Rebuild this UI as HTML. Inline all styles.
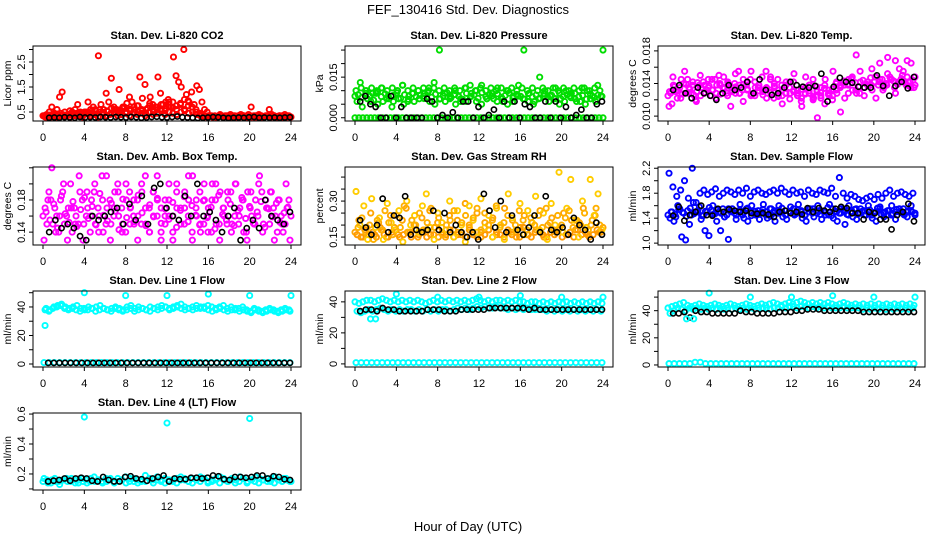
<!DOCTYPE html>
<html><head><meta charset="utf-8"><style>
body{margin:0;background:#fff}
svg{display:block;font-family:"Liberation Sans",sans-serif}
</style></head><body>
<svg id="chart" width="936" height="540" viewBox="0 0 936 540">
<text x="468" y="14" text-anchor="middle" font-size="13">FEF_130416  Std. Dev. Diagnostics</text>
<text x="468" y="531" text-anchor="middle" font-size="13">Hour of Day (UTC)</text>
</svg>
<script>
// ---- data ----
const xTicks = [0,4,8,12,16,20,24];
const co2Red1 = [0.35,0.4,0.5,0.7,0.45,0.6,1.1,1.3,0.5,0.4,0.55,0.45,0.6,0.8,0.5,0.45,0.5,0.9,0.6,0.7,0.55,2.75,0.8,0.6,1.25,0.9,1.85,0.7,0.6,1.4,0.55,0.7,0.85,1.1,0.9,0.6,0.75,1.9,1.05,1.6,0.65,1.1,0.8,0.7,1.9,1.25,0.8,0.9,1.0,0.7,2.7,1.95,1.7,1.5,3.0,1.2,0.9,1.3,0.8,1.55,1.4,0.9,0.6,0.5,0.35,0.3,0.35,0.3,0.4,0.3,0.35,0.3,0.4,0.35,0.3,0.35,0.4,0.35,0.3,0.4,0.7,0.35,0.3,0.4,0.35,0.3,0.35,0.6,0.4,0.35,0.3,0.35,0.3,0.4,0.35,0.3];
const co2Red2 = [0.3,0.35,0.4,0.3,0.45,0.35,0.4,0.5,0.35,0.45,0.4,0.5,0.45,0.6,0.5,0.4,0.55,0.45,0.6,0.5,0.65,0.45,0.55,0.7,0.5,0.6,0.45,0.75,0.55,0.6,0.8,0.65,0.7,0.9,0.6,0.85,1.0,0.75,0.7,0.6,0.45,0.35,0.3,0.35,0.3,0.35,0.3,0.35,0.3,0.35,0.3,0.35,0.3,0.35,0.3,0.35,0.3,0.35,0.3,0.35,0.3,0.35,0.3,0.35];
const co2Red3 = [0.35,0.3,0.3,0.35,0.3,0.4,0.35,0.3,0.4,0.35,0.3,0.45,0.35,0.4,0.3,0.45,0.35,0.4,0.5,0.35,0.4,0.45,0.35,0.5,0.4,0.45,0.35,0.5,0.4,0.45,0.55,0.4,0.5,0.45,0.4,0.5,0.55,0.45,0.5,0.4,0.35,0.3,0.35,0.3,0.3,0.35,0.3,0.3,0.35,0.3,0.3,0.35,0.3,0.3,0.35,0.3,0.3,0.35,0.3,0.3,0.35,0.3,0.3,0.3];
const co2Red4 = [0.32,0.38,0.33,0.42,0.36,0.33,0.4,0.35,0.45,0.38,0.5,0.42,0.55,0.4,0.6,0.48,0.52,0.65,0.45,0.58,0.7,0.5,0.62,0.48,0.75,0.55,0.6,0.85,0.5,0.7,0.62,0.55,0.9,0.68,0.75,0.8,0.6,0.95,0.7,0.5,0.4,0.33,0.32,0.34,0.33,0.32,0.34,0.33,0.32,0.34,0.33,0.32,0.34,0.33,0.32,0.34,0.33,0.32,0.34,0.33,0.32,0.34,0.33,0.32];
const co2Black = [0.27,0.28,0.27,0.29,0.28,0.27,0.3,0.28,0.29,0.28,0.3,0.29,0.28,0.3,0.29,0.28,0.3,0.29,0.27,0.28,0.3,0.31,0.29,0.28,0.3,0.32,0.29,0.28,0.27,0.26,0.27,0.28,0.3,0.29,0.27,0.26,0.27,0.28,0.27,0.29,0.3,0.27,0.28,0.27,0.28,0.27,0.28,0.29];

const presG1 = [0.008,0.013,0.010,0.006,0.009,0.011,0.007,0.004,0.010,0.012,0.006,0.009,0.010,0.008,0.011,0.013,0.025,0.009,0.007,0.010,0.006,0.011,0.008,0.010,0.012,0.007,0.009,0.011,0.006,0.010,0.008,0.012,0.025,0.009,0.006,0.015,0.010,0.008,0.011,0.007,0.010,0.009,0.006,0.011,0.010,0.008,0.012,0.025];
const presG2 = [0.006,0.004,0.007,0.009,0.005,0.006,0.008,0.006,0.007,0.005,0.008,0.006,0.007,0.009,0.006,0.005,0.007,0.006,0.008,0.005,0.007,0.006,0.009,0.006,0.005,0.007,0.008,0.006,0.007,0.005,0.006,0.008,0.007,0.006,0.005,0.007,0.008,0.006,0.007,0.005,0.006,0.008,0.007,0.006,0.005,0.007,0.006,0.008];
const presG3 = [0,0,0,0,0,0,0,0,0,0,0,0,0,0,0,0,0,0,0,0,0,0,0,0,0,0,0,0,0,0,0,0,0,0,0,0,0,0,0,0,0,0,0,0,0,0,0,0,0,0,0,0,0,0,0,0,0,0,0,0,0,0,0,0];
const presG4 = [0.010,0.011,0.010,0.011,0.010,0.011,0.010,0.011,0.010,0.012,0.010,0.011,0.010,0.011,0.010,0.011,0.010,0.011,0.010,0.011,0.010,0.011,0.012,0.010,0.011,0.010,0.011,0.010,0.011,0.010,0.011,0.010,0.011,0.010,0.011,0.010,0.011,0.010,0.011,0.010,0.011,0.010,0.011,0.010,0.011,0.010,0.011,0.010];
const presG5 = [0.0085,0.0075,0.009,0.008,0.0065,0.0095,0.0078,0.0088,0.007,0.0082,0.0092,0.0072,0.0085,0.0068,0.009,0.0078,0.0083,0.0071,0.0094,0.0076,0.0087,0.0069,0.0081,0.0092,0.0074,0.0086,0.0079,0.0068,0.009,0.0077,0.0084,0.0072,0.0093,0.0078,0.0085,0.007,0.0088,0.0076,0.0082,0.0091,0.0073,0.0086,0.0079,0.0069,0.0089,0.0077,0.0084,0.0072,0.0089,0.0076,0.0083,0.0071,0.0092,0.0078,0.0085,0.0074,0.009,0.0077,0.0082,0.0069,0.0088,0.0075,0.0084,0.0079];
const presBlack = [0.006,0.008,0.005,0.004,0,0,0.008,0,0.004,0,0,0,0,0.007,0.006,0,0.001,0,0.002,0,0.006,0.006,0,0.004,0,0.001,0.003,0,0.006,0,0.006,0,0.005,0.004,0,0,0.006,0,0.006,0,0.004,0,0.001,0.003,0,0,0.005,0.006];

const tempM1 = [0.0125,0.0115,0.013,0.0135,0.014,0.0145,0.0128,0.012,0.0138,0.0142,0.0132,0.0125,0.0145,0.015,0.0135,0.0128,0.0112,0.014,0.0155,0.0132,0.0138,0.0145,0.0128,0.0135,0.0148,0.0155,0.0132,0.0122,0.0145,0.0138,0.0128,0.0135,0.0142,0.0132,0.0118,0.0128,0.0138,0.0145,0.013,0.0122,0.0115,0.0132,0.0125,0.0142,0.0105,0.0138,0.0128,0.0148,0.0175,0.0155,0.0135,0.0142,0.0158,0.0148,0.0165,0.0138,0.0152,0.0145,0.0168,0.0142,0.0155,0.0148,0.0165,0.0138];
const tempM2 = [0.013,0.0138,0.0122,0.0145,0.0128,0.0135,0.0142,0.013,0.0125,0.0138,0.0145,0.0132,0.0128,0.014,0.0135,0.0142,0.0132,0.0128,0.0138,0.0145,0.0132,0.0125,0.0142,0.0138,0.013,0.0135,0.0145,0.014,0.0132,0.0125,0.0138,0.0142,0.0132,0.0128,0.0122,0.0135,0.0128,0.012,0.0132,0.0125,0.0138,0.0128,0.012,0.0132,0.0135,0.0142,0.0138,0.0145,0.0132,0.0128,0.0135,0.0142,0.0138,0.0148,0.0142,0.0132,0.0138,0.0145,0.0135,0.0142,0.015,0.0138,0.0142,0.0135];
const tempM3 = [0.0112,0.0148,0.0132,0.0122,0.0155,0.0128,0.0138,0.0118,0.015,0.0128,0.0135,0.0145,0.0122,0.0138,0.0148,0.0125,0.0135,0.0152,0.0128,0.0118,0.0142,0.0155,0.0125,0.0138,0.0132,0.0122,0.0148,0.0135,0.0125,0.0115,0.0142,0.0128,0.0152,0.0125,0.0112,0.0148,0.0138,0.0122,0.0098,0.0135,0.0145,0.0125,0.0155,0.0128,0.0138,0.0122,0.0145,0.0132,0.0128,0.0142,0.0125,0.0138,0.0132,0.0122,0.0145,0.0135,0.0172,0.0145,0.0128,0.0158,0.0142,0.0168,0.0135,0.0148];
const tempM4 = [0.0128,0.0136,0.0131,0.0127,0.0139,0.0133,0.0126,0.0141,0.0135,0.0129,0.0137,0.0132,0.0138,0.0127,0.0134,0.014,0.013,0.0136,0.0128,0.0139,0.0133,0.0127,0.0135,0.0131,0.0126,0.0134,0.0129,0.0137,0.0124,0.0132,0.0128,0.0121,0.013,0.0125,0.0133,0.0127,0.0131,0.0124,0.0136,0.0129,0.0134,0.0127,0.0133,0.014,0.0137,0.0143,0.0139,0.0146,0.0141,0.0136,0.0144,0.0139,0.0147,0.0142,0.0138,0.0145,0.014,0.0148,0.0143,0.0139,0.0146,0.0141,0.0137,0.0144];
const tempBlack = [0.0132,0.0138,0.0128,0.0122,0.0135,0.0128,0.0125,0.012,0.0128,0.0138,0.0132,0.0135,0.0142,0.0128,0.0145,0.0132,0.0126,0.0128,0.0135,0.0142,0.0138,0.0136,0.0135,0.0137,0.0152,0.0118,0.0136,0.0147,0.0142,0.0141,0.0136,0.0135,0.0135,0.0150,0.0137,0.0125,0.0137,0.0142,0.0134,0.0148];

const ambM1 = [0.16,0.15,0.18,0.17,0.14,0.19,0.16,0.2,0.17,0.15,0.18,0.16,0.14,0.19,0.17,0.21,0.15,0.18,0.16,0.2,0.17,0.14,0.19,0.16,0.18,0.15,0.21,0.17,0.19,0.16,0.14,0.18,0.2,0.16,0.17,0.15,0.19,0.18,0.21,0.16,0.14,0.18,0.17,0.2,0.15,0.19,0.16,0.18,0.15,0.2,0.17,0.14,0.19,0.16,0.18,0.21,0.15,0.17,0.19,0.16,0.18,0.14,0.17,0.16];
const ambM2 = [0.17,0.19,0.15,0.16,0.18,0.15,0.17,0.14,0.16,0.19,0.15,0.17,0.18,0.15,0.16,0.14,0.17,0.15,0.19,0.16,0.15,0.18,0.17,0.15,0.16,0.19,0.15,0.14,0.16,0.18,0.17,0.15,0.16,0.14,0.19,0.17,0.15,0.16,0.14,0.17,0.19,0.15,0.16,0.14,0.18,0.15,0.17,0.15,0.19,0.16,0.15,0.18,0.14,0.17,0.15,0.16,0.19,0.18,0.15,0.17,0.14,0.16,0.15,0.18];
const ambM3 = [0.13,0.18,0.22,0.14,0.16,0.2,0.13,0.17,0.15,0.21,0.13,0.19,0.16,0.2,0.14,0.18,0.21,0.13,0.17,0.19,0.14,0.2,0.15,0.18,0.13,0.2,0.17,0.14,0.19,0.21,0.13,0.16,0.18,0.13,0.2,0.15,0.17,0.21,0.13,0.18,0.15,0.2,0.14,0.18,0.2,0.13,0.17,0.19,0.14,0.2,0.16,0.18,0.13,0.19,0.15,0.2,0.14,0.17,0.19,0.13,0.18,0.15,0.2,0.13];
const ambM4 = [0.165,0.155,0.175,0.145,0.185,0.163,0.152,0.178,0.147,0.168,0.183,0.157,0.172,0.149,0.188,0.161,0.154,0.176,0.166,0.143,0.181,0.158,0.171,0.153,0.186,0.164,0.148,0.174,0.159,0.182,0.151,0.169,0.156,0.177,0.146,0.167,0.184,0.153,0.173,0.161,0.149,0.179,0.158,0.171,0.144,0.186,0.162,0.155,0.175,0.148,0.167,0.183,0.157,0.172,0.151,0.165,0.178,0.146,0.169,0.159,0.176,0.152,0.164,0.171];
const ambBlack = [0.14,0.155,0.145,0.15,0.145,0.135,0.13,0.16,0.155,0.16,0.165,0.17,0.15,0.175,0.155,0.185,0.15,0.195,0.2,0.17,0.16,0.155,0.185,0.16,0.2,0.16,0.165,0.155,0.14,0.16,0.17,0.13,0.145,0.155,0.145,0.18,0.16,0.155,0.15,0.165];

const rhA = [0.17,0.22,0.15,0.19,0.25,0.16,0.21,0.18,0.15,0.24,0.19,0.16,0.22,0.27,0.17,0.2,0.15,0.23,0.18,0.26,0.16,0.21,0.19,0.15,0.24,0.18,0.22,0.16,0.29,0.2,0.17,0.25,0.15,0.21,0.18,0.23,0.16,0.2,0.27,0.17,0.22,0.15,0.19,0.24,0.16,0.21,0.18,0.26,0.15,0.2,0.23,0.17,0.19,0.25,0.16,0.22,0.18,0.21,0.27,0.16,0.2,0.24,0.17,0.19];
const rhB = [0.16,0.15,0.18,0.16,0.17,0.15,0.19,0.16,0.15,0.17,0.18,0.15,0.16,0.17,0.15,0.18,0.16,0.17,0.15,0.16,0.19,0.15,0.17,0.16,0.18,0.15,0.16,0.17,0.15,0.18,0.16,0.15,0.17,0.16,0.18,0.15,0.17,0.16,0.15,0.18,0.16,0.17,0.15,0.19,0.16,0.15,0.17,0.18,0.16,0.15,0.17,0.16,0.18,0.15,0.16,0.17,0.15,0.18,0.16,0.17,0.15,0.16,0.18,0.17];
const rhC = [0.34,0.2,0.28,0.14,0.31,0.19,0.23,0.14,0.29,0.21,0.18,0.26,0.13,0.3,0.2,0.24,0.17,0.28,0.33,0.19,0.14,0.25,0.21,0.18,0.3,0.15,0.26,0.2,0.13,0.28,0.22,0.17,0.31,0.19,0.24,0.15,0.27,0.2,0.14,0.33,0.23,0.18,0.29,0.16,0.26,0.21,0.32,0.18,0.25,0.14,0.29,0.2,0.42,0.17,0.27,0.39,0.22,0.15,0.3,0.19,0.39,0.24,0.33,0.18];
const rhD = [0.19,0.23,0.17,0.2,0.14,0.22,0.18,0.26,0.21,0.16,0.24,0.19,0.28,0.17,0.22,0.2,0.25,0.18,0.21,0.27,0.19,0.23,0.16,0.2,0.22,0.26,0.17,0.21,0.24,0.19,0.23,0.27,0.18,0.25,0.2,0.22,0.28,0.19,0.21,0.24,0.17,0.2,0.26,0.22,0.18,0.23,0.2,0.24,0.19,0.27,0.21,0.18,0.24,0.2,0.23,0.26,0.19,0.22,0.2,0.25,0.18,0.22,0.27,0.2];
const rhBlack = [0.22,0.19,0.16,0.2,0.31,0.17,0.24,0.23,0.32,0.16,0.18,0.17,0.18,0.26,0.18,0.25,0.17,0.2,0.17,0.15,0.17,0.14,0.33,0.26,0.19,0.3,0.17,0.24,0.18,0.16,0.19,0.24,0.17,0.32,0.18,0.17,0.19,0.16,0.23,0.2,0.18,0.14,0.21,0.16];

const flowB1 = [1.45,1.5,1.42,1.55,1.48,1.52,1.45,1.5,1.58,1.44,1.5,1.53,1.47,1.5,1.55,1.45,1.52,1.48,1.5,1.45,1.55,1.5,1.47,1.52,1.5,1.45,1.55,1.48,1.52,1.5,1.45,1.5,1.55,1.48,1.52,1.45,1.5,1.55,1.48,1.52,1.5,1.45,1.55,1.5,1.48,1.52,1.45,1.5,1.55,1.48,1.52,1.5,1.45,1.5,1.55,1.48,1.52,1.45,1.5,1.55,1.48,1.5,1.52,1.48];
const flowB2 = [2.12,1.9,1.75,1.85,2.0,1.72,2.2,1.65,1.8,1.85,1.78,1.82,1.87,1.75,1.8,1.85,1.82,1.78,1.85,1.8,1.88,1.75,1.82,1.85,1.8,1.78,1.82,1.85,1.8,1.88,1.82,1.78,1.85,1.8,1.82,1.75,1.85,1.8,1.78,1.85,1.82,1.8,1.88,1.75,2.05,1.8,1.72,1.78,1.75,1.7,1.68,1.72,1.75,1.7,1.78,1.72,1.8,1.85,1.75,1.8,1.82,1.78,1.75,1.8];
const flowB3 = [1.4,1.35,1.6,1.1,1.05,1.3,1.65,1.5,1.38,1.2,1.12,1.6,1.35,1.2,1.42,1.06,1.55,1.38,1.62,1.4,1.35,1.6,1.45,1.38,1.62,1.4,1.55,1.35,1.6,1.42,1.38,1.58,1.45,1.62,1.4,1.35,1.55,1.42,1.6,1.38,1.45,1.62,1.4,1.35,1.55,1.3,1.6,1.42,1.38,1.55,1.45,1.6,1.4,1.35,1.58,1.42,1.45,1.6,1.38,1.5,1.55,1.42,1.6,1.45];
const flowB4 = [1.5,1.46,1.54,1.49,1.43,1.56,1.47,1.52,1.44,1.51,1.57,1.46,1.53,1.48,1.42,1.55,1.5,1.45,1.53,1.49,1.56,1.44,1.51,1.47,1.54,1.5,1.43,1.52,1.48,1.56,1.45,1.51,1.47,1.53,1.5,1.44,1.55,1.48,1.52,1.46,1.5,1.57,1.44,1.51,1.48,1.53,1.46,1.5,1.54,1.47,1.51,1.45,1.53,1.49,1.56,1.46,1.5,1.52,1.47,1.54,1.49,1.45,1.52,1.5];
const flowBlack = [1.44,1.58,1.36,1.45,1.5,1.6,1.45,1.44,1.55,1.5,1.54,1.52,1.5,1.52,1.48,1.47,1.48,1.46,1.42,1.5,1.52,1.48,1.5,1.46,1.56,1.5,1.56,1.52,1.5,1.55,1.58,1.56,1.48,1.48,1.38,1.5,1.48,1.38,1.38,1.22,1.45,1.5,1.63,1.35];

const l1Band1 = [39,38,40,41,42,40,39,40,41,39,38,40,39,40,41,39,38,39,40,39,38,40,41,39,40,39,38,40,39,40,41,40,39,40,41,42,40,39,40,41,39,40,41,40,39,40,41,39,40,38,39,40,38,37,39,38,37,38,39,38,37,38,39,38];
const l1Band2 = [38,37,39,40,41,39,38,39,38,37,39,38,39,37,38,39,38,37,39,38,37,38,39,37,38,39,38,37,39,38,39,40,38,39,40,39,38,39,38,39,40,39,38,37,38,39,38,37,38,39,37,38,37,36,38,37,36,37,38,37,36,37,38,37];
const l1Low = [1,1,1,1,1,1,1,1,1,1,1,1,1,1,1,1,1,1,1,1,1,1,1,1,1,1,1,1,1,1,1,1,1,1,1,1,1,1,1,1,1,1,1,1,1,1,1,1];
const l1Black = [0.8,0.8,0.8,0.8,0.8,0.8,0.8,0.8,0.8,0.8,0.8,0.8,0.8,0.8,0.8,0.8,0.8,0.8,0.8,0.8,0.8,0.8,0.8,0.8,0.8,0.8,0.8,0.8,0.8,0.8,0.8,0.8,0.8,0.8,0.8,0.8,0.8,0.8,0.8,0.8,0.8,0.8,0.8,0.8];
const l1OutHours = [0.2,4,8,12,16,20,24];
const l1OutVals = [27,50,48,48,49,48,48];

const l2Band1 = [40,39,40,41,41,40,41,42,41,40,41,40,41,40,41,40,41,40,39,40,41,40,41,40,41,40,41,40,41,40,41,42,41,40,41,40,41,41,40,41,40,41,40,40,39,40,40,39,40,39,40,39,40,39,40,39,40,39,40,39,40,39,40,39];
const l2Band2 = [34,33,34,35,34,35,36,35,34,35,34,35,34,35,35,34,35,34,35,34,35,34,35,35,34,35,36,35,36,35,36,37,36,37,36,36,37,36,36,35,36,35,36,35,36,35,35,35,35,34,35,34,35,34,35,34,35,34,35,34,35,34,35,34];
const l2Low = [0.8,0.8,0.8,0.8,0.8,0.8,0.8,0.8,0.8,0.8,0.8,0.8,0.8,0.8,0.8,0.8,0.8,0.8,0.8,0.8,0.8,0.8,0.8,0.8,0.8,0.8,0.8,0.8,0.8,0.8,0.8,0.8,0.8,0.8,0.8,0.8,0.8,0.8,0.8,0.8,0.8,0.8,0.8,0.8,0.8,0.8,0.8,0.8];
const l2Black = [34,35,35,34,36,35,35,34,34,34,34,34,35,35,35,34,34,34,35,35,35,35,35,36,36,36,36,36,36,36,35,36,35,35,35,35,35,35,35,35,35,35,35,35];
const l2OutHours = [1.5,2,4,8,12,16,20,24];
const l2OutVals = [29,29,45,43,43,44,43,43];

const l3Band1 = [42,43,44,45,46,44,43,44,45,44,43,44,45,44,43,44,45,44,43,44,45,44,43,44,45,44,45,46,45,44,45,46,45,46,47,46,45,46,45,46,45,46,45,44,45,46,45,44,45,44,45,44,45,44,45,44,45,44,45,44,45,44,45,44];
const l3Band2 = [38,40,42,41,40,42,41,42,41,42,41,42,41,42,41,42,41,42,41,42,41,42,41,42,42,42,41,42,42,43,42,43,43,42,43,43,42,43,42,43,42,43,42,42,42,43,42,42,42,42,41,42,41,42,41,42,41,42,41,42,41,42,41,42];
const l3Low = [1,1,1,1,1,2,2,1,1,1,1,1,1,1,1,1,1,1,1,1,1,1,1,1,1,1,1,1,1,1,1,1,1,1,1,1,1,1,1,1,1,1,1,1,1,1,1,1];
const l3Black = [38,38,39,35,40,39,39,38,38,38,38,38,40,39,39,38,38,38,38,39,39,39,40,40,41,41,41,40,40,40,40,40,40,40,39,39,39,39,39,39,39,39,39,39];
const l3OutHours = [1.8,2.5,4,8,12,16,20,24];
const l3OutVals = [34,34,53,50,50,51,50,50];

const l4Band1 = [0.15,0.16,0.14,0.17,0.15,0.16,0.17,0.15,0.16,0.14,0.17,0.16,0.15,0.18,0.16,0.15,0.17,0.16,0.15,0.17,0.16,0.18,0.15,0.17,0.16,0.15,0.19,0.17,0.16,0.18,0.16,0.17,0.15,0.16,0.17,0.18,0.16,0.15,0.17,0.16,0.18,0.17,0.15,0.16,0.17,0.18,0.16,0.15,0.17,0.16,0.18,0.17,0.15,0.16,0.18,0.17,0.16,0.15,0.17,0.18,0.16,0.17,0.16,0.15];
const l4Band2 = [0.17,0.14,0.16,0.15,0.13,0.16,0.15,0.17,0.14,0.16,0.15,0.14,0.17,0.15,0.16,0.14,0.15,0.17,0.14,0.15,0.16,0.14,0.17,0.15,0.14,0.16,0.15,0.17,0.14,0.16,0.15,0.14,0.16,0.15,0.14,0.16,0.17,0.15,0.14,0.16,0.15,0.17,0.14,0.15,0.16,0.14,0.17,0.15,0.16,0.14,0.15,0.17,0.14,0.16,0.15,0.14,0.16,0.17,0.15,0.14,0.16,0.15,0.17,0.15];
const l4Black = [0.15,0.155,0.16,0.17,0.155,0.17,0.175,0.17,0.155,0.15,0.18,0.16,0.15,0.15,0.18,0.185,0.17,0.165,0.155,0.17,0.18,0.19,0.15,0.17,0.165,0.165,0.175,0.175,0.17,0.175,0.19,0.185,0.165,0.16,0.18,0.18,0.175,0.18,0.19,0.19,0.17,0.185,0.18,0.165,0.16];
const l4OutHours = [4,12,20];
const l4OutVals = [0.58,0.54,0.57];

// ---- layout ----
const svg = document.getElementById('chart');
const NS = 'http://www.w3.org/2000/svg';
const colsL = [33,345,658], colsR = [301,613,925];
const rowsT = [46,167,291,413], rowsB = [121,245,367,490];

function mk(tag, attrs, parent){const e=document.createElementNS(NS,tag);for(const k in attrs)e.setAttribute(k,attrs[k]);(parent||svg).appendChild(e);return e;}

const panels = [
 {id:'co2',col:0,row:0,title:'Stan. Dev. Li-820 CO2',ylab:'Licor ppm',ymin:0.14,ymax:3.14,ticks:[0.5,1,1.5,2,2.5,3],labels:[0.5,1.5,2.5],fmt:1,
  series:[[co2Red1,'#ff0000',0.1,23.9],[co2Red2,'#ff0000',0.2,23.8],[co2Red3,'#ff0000',0,24],[co2Red4,'#ff0000',0.3,23.7],[co2Black,'#000',0.6,23.9]]},
 {id:'pressure',col:1,row:0,title:'Stan. Dev. Li-820 Pressure',ylab:'kPa',ymin:-0.0012,ymax:0.0265,ticks:[0,0.005,0.01,0.015,0.02,0.025],labels:[0,0.015],fmt:3,
  series:[[presG1,'#00dd00',0,24],[presG2,'#00dd00',0.2,23.8],[presG3,'#00dd00',0,24],[presG4,'#00dd00',0.1,23.7],[presG5,'#00dd00',0.3,23.9],[presBlack,'#000',0.5,23.9]]},
 {id:'temp',col:2,row:0,title:'Stan. Dev. Li-820 Temp.',ylab:'degrees C',ymin:0.0094,ymax:0.0186,ticks:[0.01,0.012,0.014,0.016,0.018],labels:[0.01,0.014,0.018],fmt:3,
  series:[[tempM1,'#ff00ff',0,24],[tempM2,'#ff00ff',0.15,23.9],[tempM3,'#ff00ff',0.1,24],[tempM4,'#ff00ff',0.25,23.8],[tempBlack,'#000',0.5,23.9]]},
 {id:'ambbox',col:0,row:1,title:'Stan. Dev. Amb. Box Temp.',ylab:'degrees C',ymin:0.124,ymax:0.221,ticks:[0.14,0.16,0.18,0.2,0.22],labels:[0.14,0.18],fmt:2,
  series:[[ambM1,'#ff00ff',0,24],[ambM2,'#ff00ff',0.2,23.8],[ambM3,'#ff00ff',0.1,23.9],[ambM4,'#ff00ff',0.3,23.7],[ambBlack,'#000',0.6,23.9]]},
 {id:'rh',col:1,row:1,title:'Stan. Dev. Gas Stream RH',ylab:'percent',ymin:0.117,ymax:0.442,ticks:[0.15,0.2,0.25,0.3,0.35,0.4],labels:[0.15,0.3],fmt:2,
  series:[[rhA,'#ffa500',0,24],[rhB,'#ff9900',0.2,23.8],[rhC,'#ffcc00',0.1,23.9],[rhD,'#ffb000',0.3,23.7],[rhBlack,'#000',0.5,23.9]]},
 {id:'sampleflow',col:2,row:1,title:'Stan. Dev. Sample Flow',ylab:'ml/min',ymin:0.97,ymax:2.22,ticks:[1,1.2,1.4,1.6,1.8,2,2.2],labels:[1,1.4,1.8,2.2],fmt:1,
  series:[[flowB1,'#0000ff',0,24],[flowB2,'#0000ff',0.1,23.8],[flowB3,'#0000ff',0.2,24],[flowB4,'#0000ff',0.3,23.7],[flowBlack,'#000',0.5,23.9]]},
 {id:'line1',col:0,row:2,title:'Stan. Dev. Line 1 Flow',ylab:'ml/min',ymin:-2.1,ymax:51.2,ticks:[0,10,20,30,40,50],labels:[0,20,40],fmt:0,
  series:[[l1Band1,'#00ffff',0.3,23.8],[l1Band2,'#00ffff',0.2,23.9],[l1Low,'#00ffff',0.1,23.9],[l1Black,'#000',0.5,23.9],[l1OutVals,'#00ffff',0,0,l1OutHours]]},
 {id:'line2',col:1,row:2,title:'Stan. Dev. Line 2 Flow',ylab:'ml/min',ymin:-2,ymax:47,ticks:[0,10,20,30,40],labels:[0,20,40],fmt:0,
  series:[[l2Band1,'#00ffff',0,23.9],[l2Band2,'#00ffff',0.2,23.8],[l2Low,'#00ffff',0.1,23.9],[l2Black,'#000',0.5,23.9],[l2OutVals,'#00ffff',0,0,l2OutHours]]},
 {id:'line3',col:2,row:2,title:'Stan. Dev. Line 3 Flow',ylab:'ml/min',ymin:-1.5,ymax:54.5,ticks:[0,10,20,30,40,50],labels:[0,20,40],fmt:0,
  series:[[l3Band1,'#00ffff',0,23.9],[l3Band2,'#00ffff',0.2,23.8],[l3Low,'#00ffff',0.1,23.9],[l3Black,'#000',0.5,23.9],[l3OutVals,'#00ffff',0,0,l3OutHours]]},
 {id:'line4',col:0,row:3,title:'Stan. Dev. Line 4 (LT) Flow',ylab:'ml/min',ymin:0.093,ymax:0.607,ticks:[0.1,0.2,0.3,0.4,0.5,0.6],labels:[0.2,0.4,0.6],fmt:1,
  series:[[l4Band1,'#00ffff',0,24],[l4Band2,'#00ffff',0.1,23.9],[l4OutVals,'#00ffff',0,0,l4OutHours],[l4Black,'#000',0.5,23.9]]}
];

panels.forEach(p=>{
  const L=colsL[p.col],R=colsR[p.col],T=rowsT[p.row],B=rowsB[p.row];
  const xs=h=>L+10+h*(R-L-20)/24;
  const ys=v=>B-(v-p.ymin)/(p.ymax-p.ymin)*(B-T);
  const g=mk('g',{});
  
  
  const t=mk('text',{x:(L+R)/2,y:T-7,'text-anchor':'middle','font-size':11,'font-weight':'bold'},g);
  t.textContent=p.title;
  
  
  const yl=mk('text',{transform:`translate(${L-22},${(T+B)/2}) rotate(-90)`,'text-anchor':'middle','font-size':10.5},g);
  yl.textContent=p.ylab;
  
  
  xTicks.forEach(h=>{
    mk('line',{x1:xs(h),x2:xs(h),y1:B,y2:B+4,stroke:'#000'},g);
    const tx=mk('text',{x:xs(h),y:B+20,'text-anchor':'middle','font-size':11},g);
    tx.textContent=h;
    
    
  });
  p.ticks.forEach(v=>{ mk('line',{x1:L-4,x2:L,y1:ys(v),y2:ys(v),stroke:'#000'},g); });
  p.labels.forEach(v=>{
    const ty=mk('text',{transform:`translate(${L-8},${ys(v)}) rotate(-90)`,'text-anchor':'middle','font-size':11},g);
    ty.textContent=v.toFixed(p.fmt);
    
    
  });
  p.series.forEach(s=>{
    const vals=s[0],col=s[1],h0=s[2],h1=s[3],hrs=s[4];
    const isBlack = col==='#000';
    const sg=mk('g',{fill:'none',stroke:col,'stroke-width':isBlack?1.6:1.9},g);
    
    
    vals.forEach((v,i)=>{
      const h=hrs?hrs[i]:h0+i*(h1-h0)/Math.max(1,vals.length-1);
      const c=mk('circle',{cx:xs(h),cy:ys(v),r:2.6},sg);
      
      
    });
  });
  const box=mk('rect',{x:L,y:T,width:R-L,height:B-T,fill:'none',stroke:'#000','stroke-width':1},g);
  
  
});
</script>
</body></html>
